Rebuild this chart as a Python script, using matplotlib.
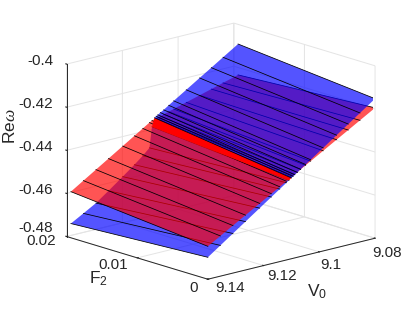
import matplotlib
matplotlib.use("Agg")
import matplotlib.pyplot as plt
from matplotlib.transforms import Affine2D
from mpl_toolkits.mplot3d.art3d import Poly3DCollection

plt.rcParams['font.family'] = ['Liberation Sans', 'DejaVu Sans']
plt.rcParams['mathtext.fontset'] = 'custom'
plt.rcParams['mathtext.rm'] = 'Liberation Sans'
plt.rcParams['mathtext.it'] = 'Liberation Serif:italic'

F2_edges = [0.0, 0.0194]
V0 = [9.14, 9.1355, 9.131, 9.1265, 9.1214, 9.1172, 9.1142, 9.1118, 9.1109, 9.11, 9.1094,
      9.1088, 9.1079, 9.1067, 9.1049, 9.1031, 9.0986, 9.0938, 9.0896, 9.0854, 9.08]
blue_at_F2_0 = [-.46983, -.46574, -.46164, -.45755, -.45291, -.44909, -.44636, -.44418, -.44336, -.44254, -.44200,
                -.44145, -.44063, -.43954, -.43791, -.43627, -.43218, -.42781, -.42399, -.42017, -.41526]
blue_at_F2_max = [-.47339, -.4701, -.46675, -.46248, -.45752, -.45332, -.4501, -.4472, -.4377, -.43384, -.4333,
                  -.43283, -.43208, -.4312, -.42966, -.42816, -.42446, -.42048, -.41704, -.41355, -.40911]
red_at_F2_0 = [-.46474, -.46135, -.45796, -.45456, -.45072, -.44755, -.44529, -.44348, -.44280, -.44212, -.44167,
               -.44122, -.44054, -.43964, -.43828, -.43692, -.43353, -.42991, -.42675, -.42358, -.41951]
red_at_F2_max = [-.45859, -.45490, -.45122, -.44753, -.44335, -.43991, -.43745, -.43548, -.43482, -.43449, -.43427,
                 -.43405, -.43372, -.43328, -.43261, -.43195, -.43029, -.42853, -.42698, -.42543, -.42344]
F2_ticks = [0, 0.01, 0.02]
F2_labels = ['0', '0.01', '0.02']
V0_ticks = [9.08, 9.1, 9.12, 9.14]
V0_labels = ['9.08', '9.1', '9.12', '9.14']
z_ticks = [-0.48, -0.46, -0.44, -0.42, -0.4]
z_labels = ['-0.48', '-0.46', '-0.44', '-0.42', '-0.4']

INK = '#262626'
GRID = '#e4e4e4'
BLUE_SPLIT = 8   # rows below this index lie under the red sheet
BLUE_TOP = 9     # rows from this index lie over the red sheet

fig = plt.figure(figsize=(4.15, 3.12), dpi=100)
ax = fig.add_axes([0.022, 0.002, 1, 1], projection='3d', computed_zorder=False, proj_type='ortho')
ax.view_init(elev=15.8, azim=138)
ax.set_box_aspect((212, 226, 180), zoom=1.11)
ax.set_xlim(0, 0.02, view_margin=0)
ax.set_ylim(9.08, 9.14, view_margin=0)
ax.set_zlim(-0.48, -0.4, view_margin=0)


def sheet(vals0, valsm, first, last, color, alpha, z, lines=True):
    vs = V0[first:last + 1]
    a = vals0[first:last + 1]
    b = valsm[first:last + 1]
    outline = [(F2_edges[0], v, w) for v, w in zip(vs, a)] + \
              [(F2_edges[1], v, w) for v, w in zip(vs[::-1], b[::-1])]
    poly = Poly3DCollection([outline], facecolors=color, edgecolors='none', alpha=alpha, zorder=z)
    ax.add_collection3d(poly, autolim=False)
    if lines:
        for v, w0, w1 in zip(vs, a, b):
            ax.plot(F2_edges, [v, v], [w0, w1], color='black', lw=0.55, zorder=z + 0.1)


def nudge(text, dx, dy):
    # mplot3d resets text transforms while drawing, so pin the pixel offset
    shifted = ax.transData + Affine2D().translate(dx, dy)
    text.get_transform = lambda: shifted


sheet(blue_at_F2_0, blue_at_F2_max, 0, BLUE_SPLIT, '#0000ff', 0.67, 10)
sheet(red_at_F2_0, red_at_F2_max, 0, len(V0) - 1, '#ff0000', 0.67, 20)
sheet(blue_at_F2_0, blue_at_F2_max, BLUE_SPLIT, BLUE_TOP, '#ff0000', 1.0, 30, lines=False)
sheet(blue_at_F2_0, blue_at_F2_max, BLUE_TOP, len(V0) - 1, '#0000ff', 0.67, 40)

ax.set_xticks(F2_ticks, F2_labels, fontsize=11, color=INK, ha='right', va='bottom')
ax.set_yticks(V0_ticks, V0_labels, fontsize=11, color=INK, ha='left', va='center')
ax.set_zticks(z_ticks, z_labels, fontsize=11, color=INK, ha='right', va='center')
ax.zaxis._axinfo['juggled'] = (1, 2, 0)
ax.get_yticklabels()[0].set_ha('center')
ax.get_yticklabels()[1].set_ha('center')
ax.set_xlabel('F$_2$', fontsize=12.5, color=INK, labelpad=-8, rotation=0, ha='right')
ax.set_ylabel('V$_0$', fontsize=12.5, color=INK, labelpad=-8, rotation=0, ha='center')
ax.set_zlabel(r'Re$\omega$', fontsize=12.5, color=INK, labelpad=0, rotation=90)
ax.xaxis.set_rotate_label(False)
ax.yaxis.set_rotate_label(False)
ax.zaxis.set_rotate_label(False)
for axis in (ax.xaxis, ax.yaxis, ax.zaxis):
    axis.set_pane_color((1, 1, 1, 0))
    axis.pane.set_edgecolor('none')
    axis.line.set_color(INK)
    axis.line.set_linewidth(0.7)
    axis._axinfo['grid'].update(color=GRID, linewidth=0.7)
    axis._axinfo['tick'].update(inward_factor=0.0, outward_factor=0.07)
ax.xaxis.set_tick_params(color=INK, pad=1, width=0.6)
ax.yaxis.set_tick_params(color=INK, pad=-2, width=0.6)
ax.zaxis.set_tick_params(color=INK, pad=-3, width=0.6)

nudge(ax.xaxis.label, -20, 3)
nudge(ax.yaxis.label, 10, -9)
nudge(ax.zaxis.label, -1, 24)
for lab, (dx, dy) in zip(ax.get_xticklabels(), [(3, 1), (4, 2), (2, 5)]):
    nudge(lab, dx, dy)
for lab, (dx, dy) in zip(ax.get_yticklabels(), [(5, -4), (4, -2), (-4, 1), (0, 2)]):
    nudge(lab, dx, dy)
for lab, dy in zip(ax.get_zticklabels(), [8, 3, 3, 3, 3]):
    nudge(lab, 0, dy)

fig.savefig('out.png', dpi=100)
